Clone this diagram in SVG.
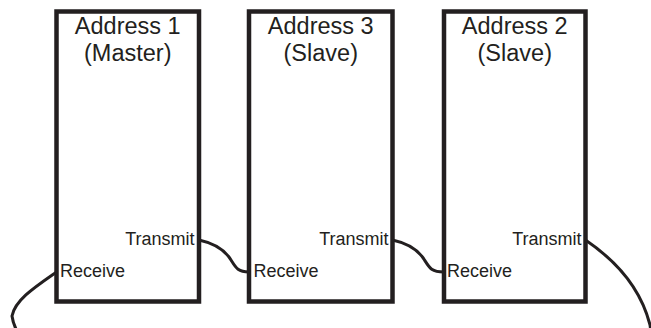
<svg xmlns="http://www.w3.org/2000/svg" width="651" height="328" viewBox="0 0 651 328">
<style>
.box{fill:#fff;stroke:#231f20;stroke-width:4.5}
.title{font-family:"Liberation Sans",Arial,sans-serif;font-size:23.5px;fill:#231f20;text-anchor:middle}
.port{font-family:"Liberation Sans",Arial,sans-serif;font-size:18px;fill:#231f20}
.tx{text-anchor:end}
.wire{fill:none;stroke:#231f20;stroke-width:3;stroke-linecap:round}
</style>
<rect width="651" height="328" fill="#fff"/>
<g id="connectors">
<path class="wire" d="M199,240 C213,243 225,250 231,260 C236,268 238,272 249,272"/>
<path class="wire" d="M392.5,240 C406.5,243 418.5,250 424.5,260 C429.5,268 431.5,272 444,272"/>
<path class="wire" d="M585.5,240 C612,258 640,285 650,325 C653,340 640,346 620,346 L40,346 C24,346 14,330 12,316 C15,300 35,287 56.5,272"/>
</g>
<g id="node-address1">
<rect class="box" x="56.5" y="11.5" width="142.5" height="290"/>
<text class="title" x="127.75" y="34">Address 1</text>
<text class="title" x="127.75" y="61">(Master)</text>
<text class="port tx" x="194.5" y="245">Transmit</text>
<text class="port" x="60" y="277">Receive</text>
</g>
<g id="node-address3">
<rect class="box" x="249" y="11.5" width="143.5" height="290"/>
<text class="title" x="320.75" y="34">Address 3</text>
<text class="title" x="320.75" y="61">(Slave)</text>
<text class="port tx" x="388.5" y="245">Transmit</text>
<text class="port" x="253.5" y="277">Receive</text>
</g>
<g id="node-address2">
<rect class="box" x="444" y="11.5" width="141.5" height="290"/>
<text class="title" x="514.75" y="34">Address 2</text>
<text class="title" x="514.75" y="61">(Slave)</text>
<text class="port tx" x="581.5" y="245">Transmit</text>
<text class="port" x="447" y="277">Receive</text>
</g>
</svg>
